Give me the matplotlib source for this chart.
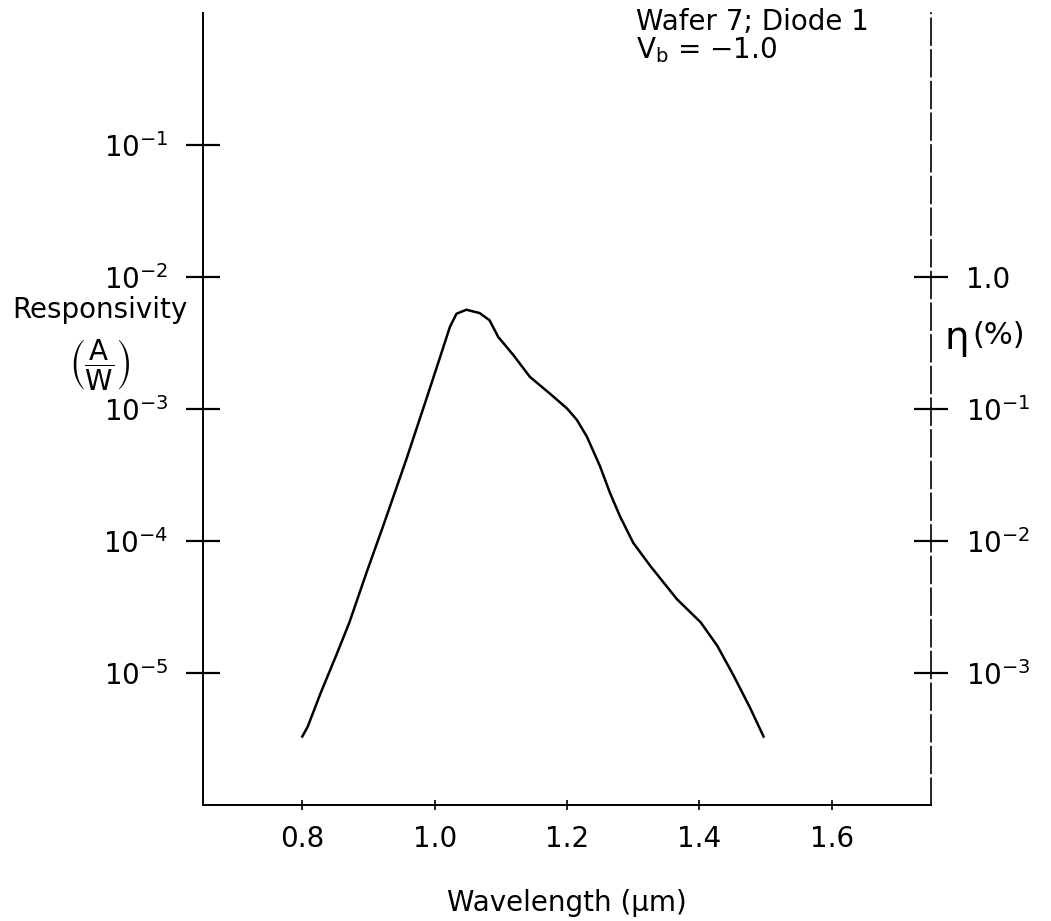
import numpy as np
import matplotlib
matplotlib.use("Agg")
from matplotlib import pyplot as plt

# data
wavelength = [0.800, 0.808, 0.828, 0.851, 0.871, 0.897, 0.922, 0.957, 0.987,
              1.010, 1.023, 1.033, 1.048, 1.068, 1.083, 1.096, 1.119, 1.144,
              1.174, 1.200, 1.215, 1.230, 1.250, 1.265, 1.280, 1.300, 1.326,
              1.366, 1.402, 1.427, 1.452, 1.477, 1.497]
responsivity = [3.3e-6, 3.9e-6, 7.1e-6, 1.35e-5, 2.4e-5, 5.75e-5, 1.29e-4,
                4.12e-4, 1.17e-3, 2.63e-3, 4.18e-3, 5.27e-3, 5.65e-3, 5.33e-3,
                4.7e-3, 3.52e-3, 2.56e-3, 1.75e-3, 1.31e-3, 1.01e-3, 8.26e-4,
                6.18e-4, 3.67e-4, 2.31e-4, 1.54e-4, 9.7e-5, 6.46e-5, 3.63e-5,
                2.42e-5, 1.61e-5, 9.5e-6, 5.4e-6, 3.3e-6]

x_ticks = [0.8, 1.0, 1.2, 1.4, 1.6]
x_ticklabels = ['0.8', '1.0', '1.2', '1.4', '1.6']
left_ticks = [1e-1, 1e-2, 1e-3, 1e-4, 1e-5]
left_ticklabels = [r'$10^{-1}$', r'$10^{-2}$', r'$10^{-3}$', r'$10^{-4}$', r'$10^{-5}$']
right_ticks = [1.0, 1e-1, 1e-2, 1e-3]
right_ticklabels = ['1.0', r'$10^{-1}$', r'$10^{-2}$', r'$10^{-3}$']

plt.rcParams['font.family'] = ['DejaVu Sans']
plt.rcParams['mathtext.fontset'] = 'dejavusans'
fs = 20

fig = plt.figure(figsize=(10.51, 9.21), dpi=100)
ax = fig.add_axes([203 / 1051, 1 - 805 / 921, 728 / 1051, 792 / 921])

ax.semilogy(wavelength, responsivity, 'k-', lw=1.8)
ax.set_xlim(0.65, 1.75)
ax.set_ylim(1e-6, 1e0)

ax.spines['top'].set_visible(False)
ax.spines['right'].set_visible(False)
for s in ['left', 'bottom']:
    ax.spines[s].set_linewidth(1.4)

ax.set_xticks(x_ticks)
ax.set_xticklabels(x_ticklabels, fontsize=fs)
ax.set_yticks(left_ticks)
ax.set_yticklabels(left_ticklabels, fontsize=fs)
ax.minorticks_off()
ax.tick_params(axis='y', direction='inout', length=24, width=1.6, pad=13)
ax.tick_params(axis='x', direction='inout', length=7, width=1.2, pad=11)

# efficiency axis (%), same decades shifted by 100
ax2 = ax.twinx()
ax2.set_yscale('log')
ax2.set_ylim(1e-4, 1e2)
for s in ['top', 'left', 'bottom']:
    ax2.spines[s].set_visible(False)
ax2.spines['right'].set_linestyle((0, (16, 3)))
ax2.spines['right'].set_linewidth(1.2)
ax2.set_yticks(right_ticks)
ax2.set_yticklabels(right_ticklabels, fontsize=fs)
ax2.minorticks_off()
ax2.tick_params(axis='y', direction='inout', length=24, width=1.6, pad=13)

ax.set_xlabel('Wavelength (μm)', fontsize=fs, labelpad=26)

fig.text(100 / 1051, 1 - 310 / 921, 'Responsivity', fontsize=fs,
         ha='center', va='center')
fig.text(100 / 1051, 1 - 365 / 921, r'$\left(\dfrac{\mathrm{A}}{\mathrm{W}}\right)$',
         fontsize=fs, ha='center', va='center')
fig.text(945 / 1051, 1 - 338 / 921, 'η', fontsize=28,
         ha='left', va='center')
fig.text(972 / 1051, 1 - 335 / 921, '(%)', fontsize=22,
         ha='left', va='center')

fig.text(636 / 1051, 1 - 22 / 921, 'Wafer 7; Diode 1', fontsize=fs,
         ha='left', va='center')
fig.text(636 / 1051, 1 - 50 / 921, r'V$_\mathrm{b}$ = $-$1.0', fontsize=fs,
         ha='left', va='center')

fig.savefig('out.png', dpi=100)
